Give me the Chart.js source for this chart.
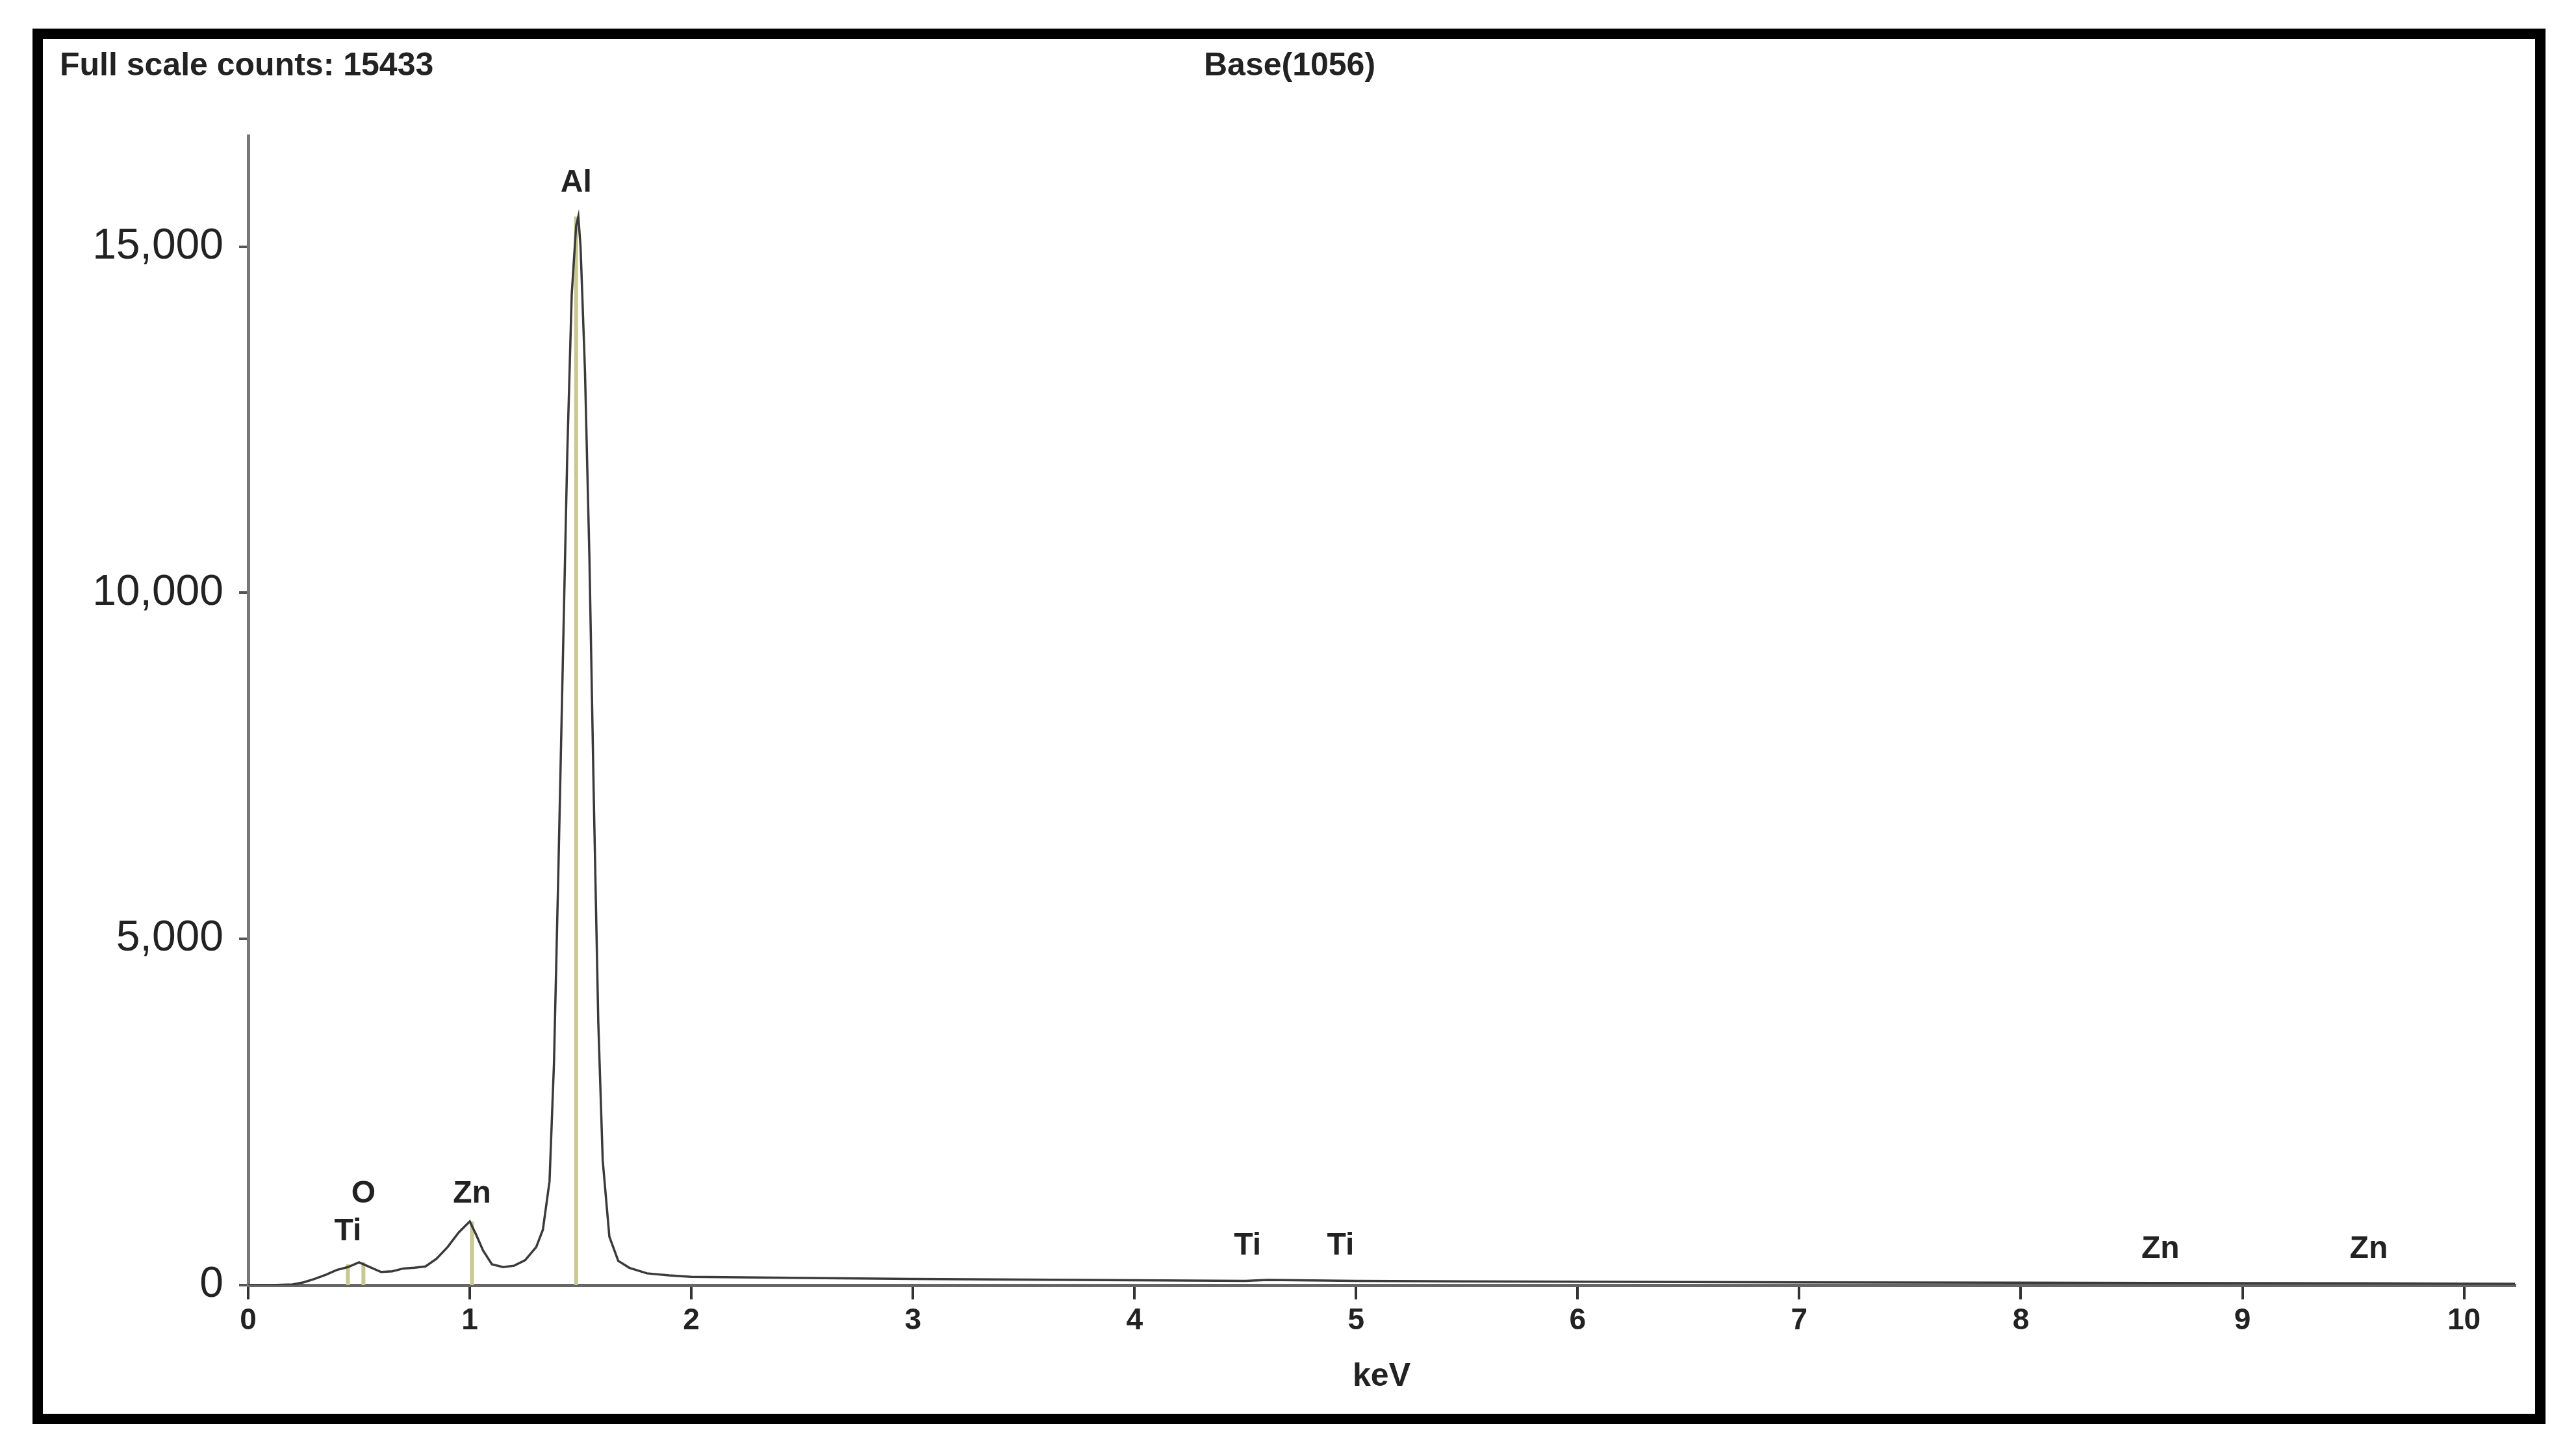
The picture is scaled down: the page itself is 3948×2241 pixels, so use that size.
<!DOCTYPE html>
<html>
<head>
<meta charset="utf-8">
<script src="https://cdn.jsdelivr.net/npm/chart.js@4/dist/chart.umd.min.js"></script>
<style>
  body { margin: 0; background: #fff; }
  canvas { display: block; }
</style>
</head>
<body>
<canvas id="eds" width="3948" height="2241"></canvas>
<script>
// --- spectrum (keV, counts) ---
const energy = [0, 0.1, 0.2, 0.25, 0.3, 0.35, 0.4, 0.45, 0.5, 0.55, 0.6, 0.65, 0.7, 0.75, 0.8, 0.85, 0.9, 0.95, 1.0, 1.03, 1.06, 1.1, 1.15, 1.2, 1.25, 1.3, 1.33, 1.36, 1.38, 1.4, 1.42, 1.44, 1.46, 1.48, 1.49, 1.5, 1.52, 1.54, 1.56, 1.58, 1.6, 1.63, 1.67, 1.72, 1.8, 1.9, 2.0, 2.3, 2.6, 3.0, 3.5, 4.0, 4.5, 4.6, 5.0, 5.5, 6.0, 6.5, 7.0, 7.5, 8.0, 8.6, 9.0, 9.6, 10.0, 10.23];
const counts = [0, 0, 10, 40, 90, 150, 220, 260, 330, 260, 190, 200, 240, 250, 270, 380, 550, 760, 920, 720, 500, 300, 260, 280, 360, 550, 800, 1500, 3200, 6000, 9000, 12000, 14300, 15300, 15433, 15000, 13200, 10500, 7000, 3800, 1800, 700, 350, 250, 170, 140, 120, 110, 100, 90, 80, 70, 60, 75, 60, 55, 50, 45, 40, 38, 35, 30, 28, 25, 20, 18];

// --- element markers ---
const markerNames = ['Ti', 'O', 'Zn', 'Al', 'Ti', 'Ti', 'Zn', 'Zn'];
const markerKeV = [0.45, 0.52, 1.01, 1.48, 4.51, 4.93, 8.63, 9.57];
const markerTop = [300, 330, 920, 15433, 0, 0, 0, 0];
const labelCounts = [450, 1000, 1000, 15600, 250, 250, 200, 200];

const yTicks = [0, 5000, 10000, 15000];

const markerSets = markerKeV.map((k, i) => ({
    data: [{ x: k, y: 0 }, { x: k, y: markerTop[i] }],
    borderColor: '#c8c890',
    borderWidth: 6,
    pointRadius: 0,
    order: 2
}));

const framePlugin = {
    id: 'frame',
    beforeDraw(chart) {
        const c = chart.ctx;
        c.save();
        c.fillStyle = '#fff';
        c.fillRect(0, 0, chart.width, chart.height);
        c.strokeStyle = '#000';
        c.lineWidth = 16;
        c.strokeRect(58, 52, 3852, 2132);
        c.fillStyle = '#222';
        c.font = 'bold 50px "Liberation Sans"';
        c.textBaseline = 'middle';
        c.fillText('Full scale counts: 15433', 92, 102);
        c.textAlign = 'center';
        c.fillText('Base(1056)', 1985, 102);
        c.restore();
    },
    afterDatasetsDraw(chart) {
        const c = chart.ctx;
        const xs = chart.scales.x, ys = chart.scales.y;
        c.save();
        c.fillStyle = '#222';
        c.font = 'bold 48px "Liberation Sans"';
        c.textAlign = 'center';
        c.textBaseline = 'bottom';
        markerNames.forEach((n, i) => {
            c.fillText(n, xs.getPixelForValue(markerKeV[i]), ys.getPixelForValue(labelCounts[i]) - 10);
        });
        c.restore();
    }
};

new Chart(document.getElementById('eds'), {
    type: 'line',
    data: {
        datasets: [{
            data: energy.map((e, i) => ({ x: e, y: counts[i] })),
            borderColor: '#3a3a3a',
            borderWidth: 3.5,
            pointRadius: 0,
            tension: 0,
            order: 1
        }].concat(markerSets)
    },
    options: {
        responsive: false,
        animation: false,
        devicePixelRatio: 1,
        layout: { padding: { left: 0, top: 209, right: 77, bottom: 88 } },
        plugins: { legend: { display: false }, tooltip: { enabled: false } },
        scales: {
            x: {
                type: 'linear', min: 0, max: 10.23,
                afterFit(s) { s.height = 175; },
                afterBuildTicks(s) { s.ticks = [0,1,2,3,4,5,6,7,8,9,10].map(v => ({ value: v })); },
                grid: { drawOnChartArea: false, tickLength: 22, color: '#333', lineWidth: 4 },
                border: { color: '#666', width: 5 },
                ticks: { color: '#222', font: { family: 'Liberation Sans', size: 46, weight: 'bold' }, padding: 6 },
                title: { display: true, text: 'keV', color: '#222', font: { family: 'Liberation Sans', size: 50, weight: 'bold' }, padding: { top: 8 } }
            },
            y: {
                min: 0, max: 16600,
                afterFit(s) { s.width = 382; },
                afterBuildTicks(s) { s.ticks = yTicks.map(v => ({ value: v })); },
                grid: { drawOnChartArea: false, tickLength: 14, color: '#555', lineWidth: 4 },
                border: { color: '#777', width: 5 },
                ticks: {
                    color: '#222', padding: 24,
                    font: { family: 'Liberation Sans', size: 66 },
                    callback: v => v.toLocaleString('en-US')
                }
            }
        }
    },
    plugins: [framePlugin]
});
</script>
</body>
</html>
